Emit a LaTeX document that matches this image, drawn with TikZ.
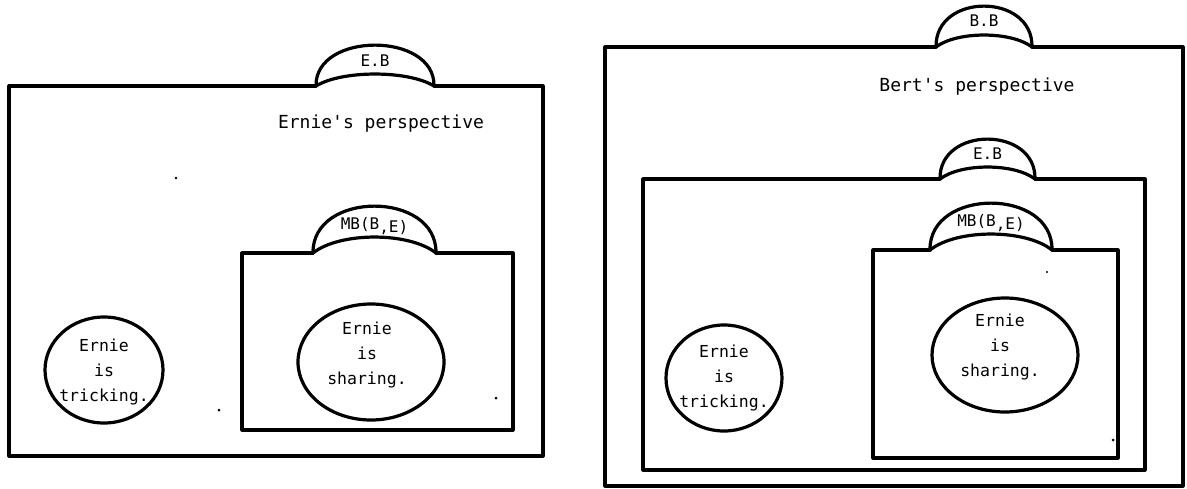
\documentclass[tikz,border=0pt]{standalone}
\usepackage{fontspec}
\setmonofont{DejaVu Sans Mono}
\usetikzlibrary{shapes.geometric}
\tikzset{
  ink/.style={line width=3.2pt, line join=round, line cap=round},
  txt/.style={font=\ttfamily\fontsize{18}{25}\selectfont, align=center, inner sep=0pt},
  btxt/.style={font=\ttfamily\fontsize{16.5}{25}\selectfont, align=center, inner sep=0pt},
  tablbl/.style={font=\ttfamily\fontsize{16}{18}\selectfont, inner sep=0pt},
  bubble/.style={draw, ellipse, line width=3.2pt, inner sep=0pt},
  speck/.style={fill=black}
}
% cap tab: x1, x2, base y, outer height, inner height, node name, label offset, label
\newcommand{\captab}[8]{%
  \draw[ink] (#1,#3) .. controls (#1-1,#3-1.33*#4) and (#2+1,#3-1.33*#4) .. (#2,#3)
     .. controls (#2-0.22*#2+0.22*#1,#3-1.33*#5) and (#1+0.22*#2-0.22*#1,#3-1.33*#5) .. cycle;
  \node[tablbl] (#6) at ({(#1+#2)/2},{#3-#7}) {#8};
}
\begin{document}
\begin{tikzpicture}[x=1pt,y=-1pt]
\useasboundingbox (0,0) rectangle (1187,488);
% ---------------- left panel ----------------
\draw[ink] (316,86) -- (9,86) -- (9,456) -- (543,456) -- (543,86) -- (434,86);
\captab{316}{434}{86}{41}{12}{tEB}{25}{E.B}
\node[txt] (persE) at (381,124) {Ernie's perspective};
\draw[ink] (313,253) -- (242,253) -- (242,430) -- (513,430) -- (513,253) -- (436,253);
\captab{313}{436}{253}{47}{16}{tMBl}{27}{MB(B\raisebox{-3pt}{,E)}}
\node[bubble, minimum width=118pt, minimum height=106pt] (trickL) at (104,370) {};
\node[btxt] (trickLt) at (104,372) {Ernie\\is\\tricking.};
\node[bubble, minimum width=146pt, minimum height=116pt] (shareL) at (371,362) {};
\node[btxt] (shareLt) at (367,355) {Ernie\\is\\sharing.};
% ---------------- right panel ----------------
\draw[ink] (936,47) -- (605,47) -- (605,486) -- (1183,486) -- (1183,47) -- (1032,47);
\captab{936}{1032}{47}{41}{12}{tBB}{26}{B.B}
\node[txt] (persB) at (977,87) {Bert's perspective};
\draw[ink] (940,179) -- (643,179) -- (643,470) -- (1145,470) -- (1145,179) -- (1035,179);
\captab{940}{1035}{179}{40}{12}{tEBr}{25}{E.B}
\draw[ink] (930,250) -- (873,250) -- (873,458) -- (1118,458) -- (1118,250) -- (1052,250);
\captab{930}{1052}{250}{47}{16}{tMBr}{27}{MB(B\raisebox{-3pt}{,E)}}
\node[bubble, minimum width=116pt, minimum height=106pt] (trickR) at (724,378) {};
\node[btxt] (trickRt) at (724,378) {Ernie\\is\\tricking.};
\node[bubble, minimum width=146pt, minimum height=114pt] (shareR) at (1005,355) {};
\node[btxt] (shareRt) at (1000,347) {Ernie\\is\\sharing.};
% scan specks
\fill[speck] (176,178) circle (1.3);
\fill[speck] (219,410) circle (1.5);
\fill[speck] (496,398) circle (1.5);
\fill[speck] (1047,272) circle (1.2);
\fill[speck] (1113,440) circle (1.5);
\end{tikzpicture}
\end{document}
